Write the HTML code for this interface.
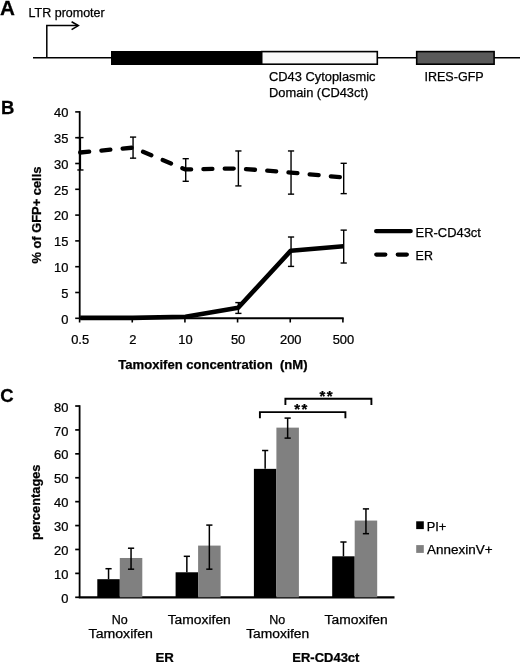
<!DOCTYPE html>
<html><head><meta charset="utf-8"><style>
html,body{margin:0;padding:0;background:#fff;}
svg{display:block;filter:grayscale(1);}
text{font-family:"Liberation Sans", sans-serif;fill:#000;stroke:#000;stroke-width:0.25px;}
</style></head><body>
<svg width="520" height="662" viewBox="0 0 520 662">
<rect width="520" height="662" fill="#fff"/>
<text transform="translate(0.0,14.6) scale(1.06,1)" font-size="19.5" font-weight="700" text-anchor="start" >A</text>
<text x="28.6" y="16.7" font-size="12" font-weight="400" text-anchor="start" textLength="76.1" lengthAdjust="spacingAndGlyphs" >LTR promoter</text>
<line x1="33" y1="57.8" x2="520" y2="57.8" stroke="#000" stroke-width="1.5" />
<polyline points="46.8,57.8 46.8,25.6 78,25.6" fill="none" stroke="#000" stroke-width="1.5"/>
<polyline points="71.6,21.7 78.3,25.6 71.6,29.6" fill="none" stroke="#000" stroke-width="1.6"/>
<rect x="111" y="51" width="150" height="14" fill="#000"/>
<rect x="261.7" y="51.6" width="115.6" height="12.6" fill="#f9f9f9" stroke="#000" stroke-width="1.6"/>
<rect x="416.7" y="51.6" width="77.4" height="12.6" fill="#5a5a5a" stroke="#000" stroke-width="1.6"/>
<text x="269" y="81.4" font-size="12" font-weight="400" text-anchor="start" textLength="106.5" lengthAdjust="spacingAndGlyphs" >CD43 Cytoplasmic</text>
<text x="269" y="97.1" font-size="12" font-weight="400" text-anchor="start" textLength="99.3" lengthAdjust="spacingAndGlyphs" >Domain (CD43ct)</text>
<text x="424.4" y="81" font-size="12" font-weight="400" text-anchor="start" textLength="59.3" lengthAdjust="spacingAndGlyphs" >IRES-GFP</text>
<text transform="translate(1.0,113.8) scale(1.03,1)" font-size="18" font-weight="700" text-anchor="start" >B</text>
<line x1="79.7" y1="111.10000000000001" x2="79.7" y2="318.3" stroke="#000" stroke-width="1.8" />
<line x1="75.2" y1="318.3" x2="79.7" y2="318.3" stroke="#000" stroke-width="1.6" />
<text transform="translate(68.3,323.6) scale(1.075,1)" font-size="12" font-weight="400" text-anchor="end" >0</text>
<line x1="75.2" y1="292.5" x2="79.7" y2="292.5" stroke="#000" stroke-width="1.6" />
<text transform="translate(68.3,297.8) scale(1.075,1)" font-size="12" font-weight="400" text-anchor="end" >5</text>
<line x1="75.2" y1="266.7" x2="79.7" y2="266.7" stroke="#000" stroke-width="1.6" />
<text transform="translate(68.3,272.0) scale(1.075,1)" font-size="12" font-weight="400" text-anchor="end" >10</text>
<line x1="75.2" y1="240.9" x2="79.7" y2="240.9" stroke="#000" stroke-width="1.6" />
<text transform="translate(68.3,246.2) scale(1.075,1)" font-size="12" font-weight="400" text-anchor="end" >15</text>
<line x1="75.2" y1="215.10000000000002" x2="79.7" y2="215.10000000000002" stroke="#000" stroke-width="1.6" />
<text transform="translate(68.3,220.4) scale(1.075,1)" font-size="12" font-weight="400" text-anchor="end" >20</text>
<line x1="75.2" y1="189.3" x2="79.7" y2="189.3" stroke="#000" stroke-width="1.6" />
<text transform="translate(68.3,194.6) scale(1.075,1)" font-size="12" font-weight="400" text-anchor="end" >25</text>
<line x1="75.2" y1="163.5" x2="79.7" y2="163.5" stroke="#000" stroke-width="1.6" />
<text transform="translate(68.3,168.8) scale(1.075,1)" font-size="12" font-weight="400" text-anchor="end" >30</text>
<line x1="75.2" y1="137.70000000000002" x2="79.7" y2="137.70000000000002" stroke="#000" stroke-width="1.6" />
<text transform="translate(68.3,143.0) scale(1.075,1)" font-size="12" font-weight="400" text-anchor="end" >35</text>
<line x1="75.2" y1="111.9" x2="79.7" y2="111.9" stroke="#000" stroke-width="1.6" />
<text transform="translate(68.3,117.2) scale(1.075,1)" font-size="12" font-weight="400" text-anchor="end" >40</text>
<line x1="79.7" y1="318.3" x2="343.7" y2="318.3" stroke="#000" stroke-width="1.9" />
<line x1="79.6" y1="318.3" x2="79.6" y2="322.5" stroke="#000" stroke-width="1.6" />
<text transform="translate(80.1,344) scale(1.075,1)" font-size="12" font-weight="400" text-anchor="middle" >0.5</text>
<line x1="132.26" y1="318.3" x2="132.26" y2="322.5" stroke="#000" stroke-width="1.6" />
<text transform="translate(132.76,344) scale(1.075,1)" font-size="12" font-weight="400" text-anchor="middle" >2</text>
<line x1="184.92" y1="318.3" x2="184.92" y2="322.5" stroke="#000" stroke-width="1.6" />
<text transform="translate(185.42,344) scale(1.075,1)" font-size="12" font-weight="400" text-anchor="middle" >10</text>
<line x1="237.57999999999998" y1="318.3" x2="237.57999999999998" y2="322.5" stroke="#000" stroke-width="1.6" />
<text transform="translate(238.08,344) scale(1.075,1)" font-size="12" font-weight="400" text-anchor="middle" >50</text>
<line x1="290.24" y1="318.3" x2="290.24" y2="322.5" stroke="#000" stroke-width="1.6" />
<text transform="translate(290.74,344) scale(1.075,1)" font-size="12" font-weight="400" text-anchor="middle" >200</text>
<line x1="342.9" y1="318.3" x2="342.9" y2="322.5" stroke="#000" stroke-width="1.6" />
<text transform="translate(343.4,344) scale(1.075,1)" font-size="12" font-weight="400" text-anchor="middle" >500</text>
<text transform="translate(40.7,215.1) rotate(-90)" font-size="12" font-weight="700" text-anchor="middle" textLength="97" lengthAdjust="spacingAndGlyphs">% of GFP+ cells</text>
<text x="118.3" y="369.4" font-size="12" font-weight="700" text-anchor="start" textLength="189.2" lengthAdjust="spacingAndGlyphs" xml:space="preserve">Tamoxifen concentration  (nM)</text>
<line x1="80.39999999999999" y1="169.982" x2="80.39999999999999" y2="137.60000000000002" stroke="#000" stroke-width="1.4" />
<line x1="77.3" y1="169.982" x2="83.49999999999999" y2="169.982" stroke="#000" stroke-width="1.4" />
<line x1="77.3" y1="137.60000000000002" x2="83.49999999999999" y2="137.60000000000002" stroke="#000" stroke-width="1.4" />
<line x1="133.06" y1="158.16" x2="133.06" y2="137.086" stroke="#000" stroke-width="1.4" />
<line x1="129.96" y1="158.16" x2="136.16" y2="158.16" stroke="#000" stroke-width="1.4" />
<line x1="129.96" y1="137.086" x2="136.16" y2="137.086" stroke="#000" stroke-width="1.4" />
<line x1="185.72" y1="181.29000000000002" x2="185.72" y2="158.674" stroke="#000" stroke-width="1.4" />
<line x1="182.62" y1="181.29000000000002" x2="188.82" y2="181.29000000000002" stroke="#000" stroke-width="1.4" />
<line x1="182.62" y1="158.674" x2="188.82" y2="158.674" stroke="#000" stroke-width="1.4" />
<line x1="238.38" y1="185.916" x2="238.38" y2="150.96400000000003" stroke="#000" stroke-width="1.4" />
<line x1="235.28" y1="185.916" x2="241.48" y2="185.916" stroke="#000" stroke-width="1.4" />
<line x1="235.28" y1="150.96400000000003" x2="241.48" y2="150.96400000000003" stroke="#000" stroke-width="1.4" />
<line x1="291.04" y1="194.14" x2="291.04" y2="150.96400000000003" stroke="#000" stroke-width="1.4" />
<line x1="287.94" y1="194.14" x2="294.14000000000004" y2="194.14" stroke="#000" stroke-width="1.4" />
<line x1="287.94" y1="150.96400000000003" x2="294.14000000000004" y2="150.96400000000003" stroke="#000" stroke-width="1.4" />
<line x1="343.7" y1="193.626" x2="343.7" y2="163.3" stroke="#000" stroke-width="1.4" />
<line x1="340.59999999999997" y1="193.626" x2="346.8" y2="193.626" stroke="#000" stroke-width="1.4" />
<line x1="340.59999999999997" y1="163.3" x2="346.8" y2="163.3" stroke="#000" stroke-width="1.4" />
<line x1="238.38" y1="313.388" x2="238.38" y2="302.594" stroke="#000" stroke-width="1.4" />
<line x1="235.28" y1="313.388" x2="241.48" y2="313.388" stroke="#000" stroke-width="1.4" />
<line x1="235.28" y1="302.594" x2="241.48" y2="302.594" stroke="#000" stroke-width="1.4" />
<line x1="291.04" y1="266.40840000000003" x2="291.04" y2="237.00760000000002" stroke="#000" stroke-width="1.4" />
<line x1="287.94" y1="266.40840000000003" x2="294.14000000000004" y2="266.40840000000003" stroke="#000" stroke-width="1.4" />
<line x1="287.94" y1="237.00760000000002" x2="294.14000000000004" y2="237.00760000000002" stroke="#000" stroke-width="1.4" />
<line x1="343.7" y1="263.016" x2="343.7" y2="230.12" stroke="#000" stroke-width="1.4" />
<line x1="340.59999999999997" y1="263.016" x2="346.8" y2="263.016" stroke="#000" stroke-width="1.4" />
<line x1="340.59999999999997" y1="230.12" x2="346.8" y2="230.12" stroke="#000" stroke-width="1.4" />
<polyline points="80.20,152.51 132.86,147.62 185.52,169.47 238.18,168.44 290.84,172.55 343.50,177.49" fill="none" stroke="#000" stroke-width="4.3" stroke-dasharray="9 12.3" stroke-linecap="round" stroke-linejoin="round"/>
<polyline points="80.20,317.89 132.86,317.89 185.52,316.75 238.18,307.73 290.84,250.68 343.50,246.31" fill="none" stroke="#000" stroke-width="4.6" stroke-linejoin="round"/>
<line x1="376.2" y1="231.1" x2="410.6" y2="231.1" stroke="#000" stroke-width="4.4" stroke-linecap="round"/>
<line x1="376.2" y1="254.6" x2="410.6" y2="254.6" stroke="#000" stroke-width="4.1" stroke-linecap="round" stroke-dasharray="9.2 12.3"/>
<text x="415.6" y="236.9" font-size="12" font-weight="400" text-anchor="start" textLength="65.3" lengthAdjust="spacingAndGlyphs" >ER-CD43ct</text>
<text x="415.6" y="260" font-size="12" font-weight="400" text-anchor="start" textLength="17.3" lengthAdjust="spacingAndGlyphs" >ER</text>
<text transform="translate(0.3,402.2) scale(1.03,1)" font-size="18" font-weight="700" text-anchor="start" >C</text>
<line x1="79.6" y1="405.21999999999997" x2="79.6" y2="597.3" stroke="#000" stroke-width="1.8" />
<line x1="75.2" y1="597.3" x2="79.6" y2="597.3" stroke="#000" stroke-width="1.7" />
<text transform="translate(68.3,602.9) scale(1.075,1)" font-size="12" font-weight="400" text-anchor="end" >0</text>
<line x1="75.2" y1="573.39" x2="79.6" y2="573.39" stroke="#000" stroke-width="1.7" />
<text transform="translate(68.3,578.99) scale(1.075,1)" font-size="12" font-weight="400" text-anchor="end" >10</text>
<line x1="75.2" y1="549.4799999999999" x2="79.6" y2="549.4799999999999" stroke="#000" stroke-width="1.7" />
<text transform="translate(68.3,555.08) scale(1.075,1)" font-size="12" font-weight="400" text-anchor="end" >20</text>
<line x1="75.2" y1="525.5699999999999" x2="79.6" y2="525.5699999999999" stroke="#000" stroke-width="1.7" />
<text transform="translate(68.3,531.17) scale(1.075,1)" font-size="12" font-weight="400" text-anchor="end" >30</text>
<line x1="75.2" y1="501.65999999999997" x2="79.6" y2="501.65999999999997" stroke="#000" stroke-width="1.7" />
<text transform="translate(68.3,507.26) scale(1.075,1)" font-size="12" font-weight="400" text-anchor="end" >40</text>
<line x1="75.2" y1="477.74999999999994" x2="79.6" y2="477.74999999999994" stroke="#000" stroke-width="1.7" />
<text transform="translate(68.3,483.35) scale(1.075,1)" font-size="12" font-weight="400" text-anchor="end" >50</text>
<line x1="75.2" y1="453.8399999999999" x2="79.6" y2="453.8399999999999" stroke="#000" stroke-width="1.7" />
<text transform="translate(68.3,459.44) scale(1.075,1)" font-size="12" font-weight="400" text-anchor="end" >60</text>
<line x1="75.2" y1="429.92999999999995" x2="79.6" y2="429.92999999999995" stroke="#000" stroke-width="1.7" />
<text transform="translate(68.3,435.53) scale(1.075,1)" font-size="12" font-weight="400" text-anchor="end" >70</text>
<line x1="75.2" y1="406.02" x2="79.6" y2="406.02" stroke="#000" stroke-width="1.7" />
<text transform="translate(68.3,411.62) scale(1.075,1)" font-size="12" font-weight="400" text-anchor="end" >80</text>
<line x1="78.8" y1="597.3" x2="394.5" y2="597.3" stroke="#000" stroke-width="2.2" />
<rect x="97.3" y="579.19" width="22.5" height="18.11" fill="#000"/>
<rect x="119.8" y="557.98" width="22.5" height="39.32" fill="#808080"/>
<rect x="175.6" y="572.28" width="22.5" height="25.02" fill="#000"/>
<rect x="198.1" y="545.59" width="22.5" height="51.71" fill="#808080"/>
<rect x="253.9" y="468.86" width="22.5" height="128.44" fill="#000"/>
<rect x="276.4" y="427.63" width="22.5" height="169.67" fill="#808080"/>
<rect x="332.2" y="556.31" width="22.5" height="40.99" fill="#000"/>
<rect x="354.7" y="520.57" width="22.5" height="76.73" fill="#808080"/>
<line x1="108.55" y1="579.1891999999999" x2="108.55" y2="568.704" stroke="#000" stroke-width="1.5" />
<line x1="105.45" y1="568.704" x2="111.64999999999999" y2="568.704" stroke="#000" stroke-width="1.5" />
<line x1="131.05" y1="569.1805999999999" x2="131.05" y2="548.2102" stroke="#000" stroke-width="1.5" />
<line x1="127.95000000000002" y1="569.1805999999999" x2="134.15" y2="569.1805999999999" stroke="#000" stroke-width="1.5" />
<line x1="127.95000000000002" y1="548.2102" x2="134.15" y2="548.2102" stroke="#000" stroke-width="1.5" />
<line x1="186.85" y1="572.2785" x2="186.85" y2="556.3123999999999" stroke="#000" stroke-width="1.5" />
<line x1="183.75" y1="556.3123999999999" x2="189.95" y2="556.3123999999999" stroke="#000" stroke-width="1.5" />
<line x1="209.35" y1="569.1805999999999" x2="209.35" y2="525.0951" stroke="#000" stroke-width="1.5" />
<line x1="206.25" y1="569.1805999999999" x2="212.45" y2="569.1805999999999" stroke="#000" stroke-width="1.5" />
<line x1="206.25" y1="525.0951" x2="212.45" y2="525.0951" stroke="#000" stroke-width="1.5" />
<line x1="265.15" y1="468.8562999999999" x2="265.15" y2="450.50719999999995" stroke="#000" stroke-width="1.5" />
<line x1="262.04999999999995" y1="450.50719999999995" x2="268.25" y2="450.50719999999995" stroke="#000" stroke-width="1.5" />
<line x1="287.65" y1="438.1156" x2="287.65" y2="418.09839999999997" stroke="#000" stroke-width="1.5" />
<line x1="284.54999999999995" y1="438.1156" x2="290.75" y2="438.1156" stroke="#000" stroke-width="1.5" />
<line x1="284.54999999999995" y1="418.09839999999997" x2="290.75" y2="418.09839999999997" stroke="#000" stroke-width="1.5" />
<line x1="343.45" y1="556.3123999999999" x2="343.45" y2="542.0143999999999" stroke="#000" stroke-width="1.5" />
<line x1="340.34999999999997" y1="542.0143999999999" x2="346.55" y2="542.0143999999999" stroke="#000" stroke-width="1.5" />
<line x1="365.95" y1="533.6739" x2="365.95" y2="508.8906999999999" stroke="#000" stroke-width="1.5" />
<line x1="362.84999999999997" y1="533.6739" x2="369.05" y2="533.6739" stroke="#000" stroke-width="1.5" />
<line x1="362.84999999999997" y1="508.8906999999999" x2="369.05" y2="508.8906999999999" stroke="#000" stroke-width="1.5" />
<polyline points="259.9,418.3 259.9,412.1 345.4,412.1 345.4,418.3" fill="none" stroke="#000" stroke-width="1.9"/>
<polyline points="285.4,405 285.4,398.8 371.4,398.8 371.4,405" fill="none" stroke="#000" stroke-width="1.9"/>
<text transform="translate(297.1,414.4) scale(1.0,1)" font-size="15" font-weight="700" text-anchor="middle" >*</text>
<text transform="translate(304.3,414.4) scale(1.0,1)" font-size="15" font-weight="700" text-anchor="middle" >*</text>
<text transform="translate(322.5,401.1) scale(1.0,1)" font-size="15" font-weight="700" text-anchor="middle" >*</text>
<text transform="translate(329.6,401.1) scale(1.0,1)" font-size="15" font-weight="700" text-anchor="middle" >*</text>
<text transform="translate(40.2,502.3) rotate(-90)" font-size="12" font-weight="700" text-anchor="middle" textLength="75.6" lengthAdjust="spacingAndGlyphs">percentages</text>
<text x="119.7" y="623.6" font-size="12" font-weight="400" text-anchor="middle" textLength="16" lengthAdjust="spacingAndGlyphs" >No</text>
<text x="120.75" y="637.8" font-size="12" font-weight="400" text-anchor="middle" textLength="64.3" lengthAdjust="spacingAndGlyphs" >Tamoxifen</text>
<text x="199.25" y="623.5" font-size="12" font-weight="400" text-anchor="middle" textLength="63.1" lengthAdjust="spacingAndGlyphs" >Tamoxifen</text>
<text x="277.2" y="623.6" font-size="12" font-weight="400" text-anchor="middle" textLength="16" lengthAdjust="spacingAndGlyphs" >No</text>
<text x="277.7" y="637.8" font-size="12" font-weight="400" text-anchor="middle" textLength="63" lengthAdjust="spacingAndGlyphs" >Tamoxifen</text>
<text x="356.15" y="623.5" font-size="12" font-weight="400" text-anchor="middle" textLength="63.1" lengthAdjust="spacingAndGlyphs" >Tamoxifen</text>
<text x="164.6" y="661.5" font-size="12" font-weight="700" text-anchor="middle" textLength="18.4" lengthAdjust="spacingAndGlyphs" >ER</text>
<text x="325.85" y="661.5" font-size="12" font-weight="700" text-anchor="middle" textLength="67.1" lengthAdjust="spacingAndGlyphs" >ER-CD43ct</text>
<rect x="416.2" y="521.3" width="7.6" height="7.8" fill="#000"/>
<rect x="416.2" y="545.1" width="7.6" height="7.8" fill="#808080"/>
<text x="426.7" y="531" font-size="12" font-weight="400" text-anchor="start" textLength="19.6" lengthAdjust="spacingAndGlyphs" >PI+</text>
<text x="427.1" y="554" font-size="12" font-weight="400" text-anchor="start" textLength="65.4" lengthAdjust="spacingAndGlyphs" >AnnexinV+</text>
</svg>
</body></html>
